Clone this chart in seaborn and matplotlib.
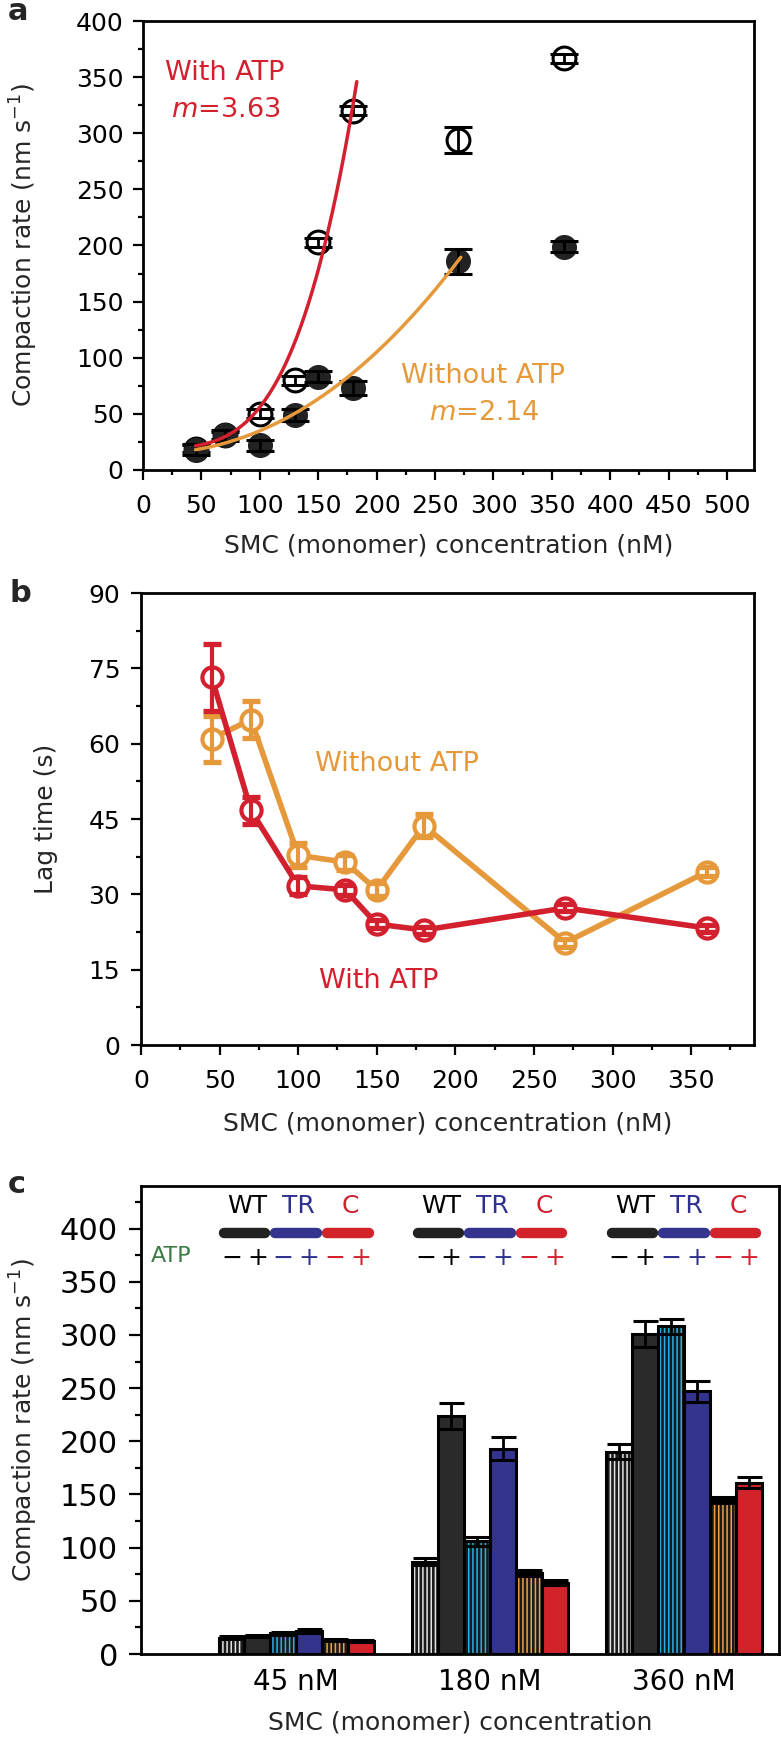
import numpy as np
import pandas as pd
import matplotlib
matplotlib.use("Agg")
import matplotlib.pyplot as plt
import matplotlib.transforms as mtransforms
from matplotlib.patches import Rectangle
from matplotlib.ticker import MultipleLocator
import seaborn as sns

# ---- panel a: compaction rate vs SMC concentration ----
conc = [45, 70, 100, 130, 150, 180, 270, 360]
rate_atp = [19, 31, 50, 80, 203, 320, 294, 367]
rate_atp_err = [3, 3, 4, 4, 4, 4, 12, 4]
rate_noatp = [18, 31, 22, 49, 83, 73, 186, 199]
rate_noatp_err = [5, 5, 5, 5, 5, 6, 11, 5]

# power-law fits drawn in panel a: offset + amp * c**m
fit_atp = dict(m=3.63, amp=2.0e-6, offset=19.6, cmin=45, cmax=183)
fit_noatp = dict(m=2.14, amp=1.08e-3, offset=14.3, cmin=45, cmax=272)

# ---- panel b: lag time ----
lag_atp = [73.2, 46.7, 31.7, 30.9, 24.1, 22.9, 27.3, 23.3]
lag_atp_err = [6.7, 2.7, 1.7, 1.0, 0.7, 0.7, 0.7, 0.7]
lag_noatp = [61.0, 64.8, 37.8, 36.4, 30.9, 43.7, 20.4, 34.5]
lag_noatp_err = [4.6, 3.6, 2.4, 1.5, 1.3, 2.3, 0.8, 0.9]

# ---- panel c: mutants, -/+ ATP ----
groups = ["45 nM", "180 nM", "360 nM"]
conditions = ["WT-", "WT+", "TR-", "TR+", "C-", "C+"]
rate_45 = [15.5, 17, 19.5, 22, 13, 12.5]
rate_180 = [87, 224, 106, 193, 76, 67]
rate_360 = [190, 301, 308, 247, 145, 161]
err_45 = [1.5, 1, 1.5, 2, 1, 1]
err_180 = [3, 12, 4, 11, 3, 2.5]
err_360 = [7, 12, 7, 10, 3, 5]

RED = "#d2202f"
ORANGE = "#e6993a"
DARK = "#222222"
BLUE = "#34348f"
GREEN = "#3d7b46"
face_colors = {"WT-": "#1a1a1a", "WT+": "#2a2a2a", "TR-": "#1a1a1a",
               "TR+": BLUE, "C-": "#1a1a1a", "C+": "#d2232a"}
stripe_colors = {"WT-": "#e2e2e2", "TR-": "#25b0ea", "C-": "#eea23c"}

sns.set_style("ticks")
plt.rcParams["font.family"] = ["DejaVu Sans"]
plt.rcParams["hatch.linewidth"] = 1.1

fig = plt.figure(figsize=(7.81, 17.38), dpi=100)


def style_axes(ax, labelsize=18):
    for sp in ax.spines.values():
        sp.set_visible(True)
        sp.set_linewidth(2)
        sp.set_color("black")
    ax.tick_params(which="both", direction="out", width=1.6, top=False, right=False,
                   labelsize=labelsize, colors="black")
    ax.tick_params(which="major", length=7)
    ax.tick_params(which="minor", length=3.5)


# ================= panel a =================
ax = fig.add_axes([0.1831, 0.7296, 0.7823, 0.2583])
sns.scatterplot(x=conc, y=rate_atp, ax=ax, s=270, color="white", edgecolor="black",
                linewidth=2.2, zorder=2)
ax.errorbar(conc, rate_atp, yerr=rate_atp_err, fmt="none", ecolor="black",
            elinewidth=2, capsize=10, capthick=2.2, zorder=3)
sns.scatterplot(x=conc, y=rate_noatp, ax=ax, s=290, color=DARK, edgecolor=DARK,
                linewidth=1, zorder=4)
ax.errorbar(conc, rate_noatp, yerr=rate_noatp_err, fmt="none", ecolor="black",
            elinewidth=2, capsize=10, capthick=2.2, zorder=5)

for fit, col in [(fit_atp, RED), (fit_noatp, ORANGE)]:
    cs = np.linspace(fit["cmin"], fit["cmax"], 200)
    sns.lineplot(x=cs, y=fit["offset"] + fit["amp"] * cs ** fit["m"], ax=ax,
                 color=col, linewidth=2.5, zorder=6)

ax.set_xlim(0, 523)
ax.set_ylim(0, 400)
ax.set_xticks(range(0, 501, 50))
ax.set_yticks(range(0, 401, 50))
ax.xaxis.set_minor_locator(MultipleLocator(25))
ax.yaxis.set_minor_locator(MultipleLocator(25))
style_axes(ax)
ax.tick_params(axis="x", pad=10)
ax.tick_params(axis="y", pad=7)
ax.set_xlabel("SMC (monomer) concentration (nM)", fontsize=18)
ax.set_ylabel("Compaction rate (nm s$^{-1}$)", fontsize=18)
ax.xaxis.set_label_coords(0.5, -0.142)
ax.yaxis.set_label_coords(-0.169, 0.5)

ax.text(0.133, 0.884, "With ATP", color=RED, fontsize=19.5, ha="center", va="center",
        transform=ax.transAxes)
ax.text(0.136, 0.802, "$m$=3.63", color=RED, fontsize=19.5, ha="center", va="center",
        transform=ax.transAxes)
ax.text(0.556, 0.209, "Without ATP", color=ORANGE, fontsize=19.5, ha="center",
        va="center", transform=ax.transAxes)
ax.text(0.558, 0.127, "$m$=2.14", color=ORANGE, fontsize=19.5, ha="center",
        va="center", transform=ax.transAxes)

# ================= panel b =================
ax = fig.add_axes([0.1805, 0.3987, 0.7849, 0.2601])
for lag, err, col, z in [(lag_noatp, lag_noatp_err, ORANGE, 2),
                         (lag_atp, lag_atp_err, RED, 5)]:
    sns.lineplot(x=conc, y=lag, ax=ax, color=col, linewidth=4, marker="o",
                 markersize=14.5, markerfacecolor="white", markeredgecolor=col,
                 markeredgewidth=3, zorder=z)
    ax.errorbar(conc, lag, yerr=err, fmt="none", ecolor=col, elinewidth=3,
                capsize=6.5, capthick=3.8, zorder=z + 1)

ax.set_xlim(0, 390)
ax.set_ylim(0, 90)
ax.set_xticks(range(0, 351, 50))
ax.set_yticks(range(0, 91, 15))
ax.xaxis.set_minor_locator(MultipleLocator(25))
ax.yaxis.set_minor_locator(MultipleLocator(7.5))
style_axes(ax)
ax.tick_params(axis="x", pad=10)
ax.tick_params(axis="y", pad=8)
ax.set_xlabel("SMC (monomer) concentration (nM)", fontsize=18)
ax.set_ylabel("Lag time (s)", fontsize=18)
ax.xaxis.set_label_coords(0.5, -0.146)
ax.yaxis.set_label_coords(-0.135, 0.5)
ax.text(0.418, 0.622, "Without ATP", color=ORANGE, fontsize=19.5, ha="center",
        va="center", transform=ax.transAxes)
ax.text(0.387, 0.142, "With ATP", color=RED, fontsize=19.5, ha="center",
        va="center", transform=ax.transAxes)

# ================= panel c =================
ax = fig.add_axes([0.1805, 0.0483, 0.8169, 0.2693])
df = pd.DataFrame({
    "group": np.repeat(groups, len(conditions)),
    "condition": conditions * len(groups),
    "rate": rate_45 + rate_180 + rate_360,
    "err": err_45 + err_180 + err_360,
})
sns.barplot(data=df, x="group", y="rate", hue="condition", order=groups,
            hue_order=conditions, palette=face_colors, saturation=1, width=0.8,
            gap=0, errorbar=None, legend=False, linewidth=0, ax=ax)

for cond, cont in zip(conditions, ax.containers):
    sub = df[df["condition"] == cond].set_index("group").loc[groups]
    xs, ys = [], []
    for bar in cont:
        if cond in stripe_colors:
            bar.set_hatch("||||")
            bar.set_edgecolor(stripe_colors[cond])
            bar.set_linewidth(0)
        ax.add_patch(Rectangle(bar.get_xy(), bar.get_width(), bar.get_height(),
                               fill=False, edgecolor="black", linewidth=2.2, zorder=3))
        xs.append(bar.get_x() + bar.get_width() / 2)
        ys.append(bar.get_height())
    ax.errorbar(xs, ys, yerr=sub["err"].values, fmt="none", ecolor="black",
                elinewidth=2, capsize=9, capthick=2.2, zorder=4)

# construct / ATP key above each group
trans = mtransforms.blended_transform_factory(ax.transData, ax.transAxes)
pair_names = [("WT", DARK, "black"), ("TR", BLUE, "#2e3192"), ("C", "#d2232a", RED)]
for j in range(len(groups)):
    bars = [cont[j] for cont in ax.containers]
    for k, (name, seg_col, txt_col) in enumerate(pair_names):
        b0, b1 = bars[2 * k], bars[2 * k + 1]
        w = b0.get_width()
        x0 = b0.get_x() + 0.2 * w
        x1 = b1.get_x() + b1.get_width() - 0.2 * w
        ax.plot([x0, x1], [0.8996, 0.8996], color=seg_col, linewidth=7.5,
                solid_capstyle="round", transform=trans, clip_on=False, zorder=5)
        ax.text((b0.get_x() + b1.get_x() + w) / 2 + 0.1 * w, 0.957, name,
                color=txt_col, fontsize=18, ha="center", va="center", transform=trans)
        for b, sign in [(b0, "\u2212"), (b1, "+")]:
            ax.text(b.get_x() + b.get_width() / 2, 0.846, sign, color=txt_col,
                    fontsize=18, ha="center", va="center", transform=trans)
ax.text(0.047, 0.850, "ATP", color=GREEN, fontsize=16, ha="center", va="center",
        transform=ax.transAxes)

ax.set_xlim(-0.8, 2.49)
ax.set_ylim(0, 440)
ax.set_yticks(range(0, 401, 50))
ax.yaxis.set_minor_locator(MultipleLocator(25))
style_axes(ax, labelsize=22)
ax.tick_params(axis="x", length=0, pad=10, labelsize=20)
ax.tick_params(axis="y", which="major", length=8.5, pad=8)
ax.tick_params(axis="y", which="minor", length=4.5)
ax.set_xlabel("SMC (monomer) concentration", fontsize=18)
ax.set_ylabel("Compaction rate (nm s$^{-1}$)", fontsize=18)
ax.xaxis.set_label_coords(0.5, -0.12)
ax.yaxis.set_label_coords(-0.158, 0.5)

# panel letters
fig.text(0.0102, 0.9885, "a", fontsize=22, fontweight="bold", va="baseline")
fig.text(0.0128, 0.6536, "b", fontsize=22, fontweight="bold", va="baseline")
fig.text(0.0102, 0.3136, "c", fontsize=22, fontweight="bold", va="baseline")

fig.savefig("out.png", dpi=100)
